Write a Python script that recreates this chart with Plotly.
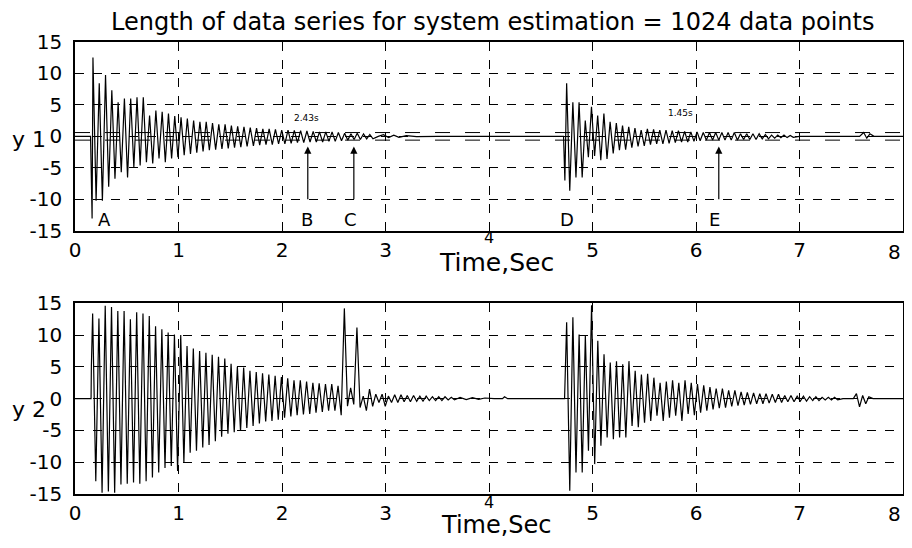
import plotly.graph_objects as go

# ---- values ----
# each burst: onset time, oscillation period (s), then the height of every
# positive peak and every negative trough, one per cycle
y1_b1_start, y1_b1_period = 0.158, 0.0608
y1_b1_peaks = [12.5, 8.4, 9.7, 7.3, 5.4, 6.0, 6.0, 6.2, 6.2, 3.3,
               4.1, 3.9, 3.6, 3.2, 3.0, 2.8, 2.5, 2.3, 2.3, 2.1,
               1.9, 1.9, 1.7, 1.6, 1.5, 1.4, 1.3, 1.2, 1.2, 1.1,
               1.0, 1.0, 0.95, 0.9, 0.85, 0.8, 0.7, 0.7, 0.7, 0.6,
               0.5, 0.4, 0.5, 0.4, 0.3]
y1_b1_troughs = [-10.2, -10.2, -8.0, -6.7, -5.7, -6.5, -4.9, -4.6, -4.1, -4.3,
                 -3.5, -4.1, -3.5, -3.3, -3.0, -2.8, -2.6, -2.4, -2.2, -2.1,
                 -2.0, -1.9, -1.8, -1.7, -1.6, -1.5, -1.4, -1.3, -1.3, -1.2,
                 -1.2, -1.1, -1.0, -1.0, -0.9, -0.9, -0.9, -0.8, -0.8, -0.7,
                 -0.6, -0.5, -0.5, -0.4, -0.4]
y1_b2_start, y1_b2_period = 4.735, 0.060
y1_b2_peaks = [8.4, 5.4, 5.4, 2.5, 4.7, 3.3, 3.6, 2.3, 2.1, 1.7,
               1.5, 1.3, 1.0, 1.2, 1.1, 1.0, 1.0, 0.9, 0.9, 0.8,
               0.7, 0.7, 0.6, 0.6, 0.6, 0.6, 0.6, 0.6, 0.4, 0.4,
               0.4, 0.4, 0.3, 0.2, 0.2, 0.2, 0.15]
y1_b2_troughs = [-8.6, -6.5, -6.5, -3.3, -3.1, -3.8, -3.6, -2.7, -2.2, -2.1,
                 -1.8, -1.6, -1.5, -1.3, -1.2, -1.2, -1.1, -1.0, -0.9, -0.9,
                 -0.8, -0.7, -0.6, -0.6, -0.6, -0.6, -0.6, -0.6, -0.5, -0.5,
                 -0.5, -0.4, -0.4, -0.3, -0.2, -0.2, -0.15]
# quiet stretches / onsets / blips of y1
y1_lead_t, y1_lead_v = [0.0, 0.15, 0.165], [0.0, 0.0, -13.0]
y1_gap_t = [2.93, 2.98, 3.03, 3.08, 3.13, 3.2, 3.3, 3.5, 4.0, 4.4, 4.45, 4.5, 4.72]
y1_gap_v = [0.0, 0.25, -0.2, 0.2, -0.15, 0.1, -0.05, 0.0, 0.0, 0.0, 0.1, 0.0, 0.0]
y1_on2_t, y1_on2_v = [4.733], [-7.0]
y1_tail_t = [7.0, 7.58, 7.62, 7.65, 7.68, 7.72, 8.0]
y1_tail_v = [0.0, 0.0, 0.6, -0.3, 0.4, 0.0, 0.0]
y1_band = [0.6, -0.6]

y2_b1_start, y2_b1_period = 0.155, 0.0608
y2_b1_peaks = [13.4, 12.6, 14.6, 14.4, 13.8, 13.8, 12.5, 13.6, 13.4, 13.0,
               11.4, 10.9, 10.4, 10.1, 10.0, 8.3, 7.9, 7.5, 7.2, 6.9,
               6.6, 6.3, 5.5, 5.0, 4.9, 4.4, 4.2, 4.0, 3.8, 3.6,
               3.4, 3.2, 2.9, 2.9, 2.7, 2.5, 2.4, 2.3, 2.3, 2.0,
               14.2, 1.7, 11.2, 0.4, 1.5, 0.7, 0.7, 0.4, 0.6, 0.6,
               0.5, 0.5, 0.4, 0.4, 0.3, 0.3, 0.3, 0.2]
y2_b1_troughs = [-13.0, -14.8, -14.6, -14.8, -13.5, -13.4, -13.2, -13.4, -13.0, -12.4,
                 -11.6, -10.9, -10.6, -11.4, -10.1, -8.5, -8.2, -7.7, -7.3, -6.7,
                 -6.0, -5.5, -5.3, -5.1, -4.6, -4.3, -3.9, -3.6, -3.5, -3.3,
                 -3.0, -2.8, -2.6, -2.5, -2.4, -2.2, -2.1, -1.9, -1.9, -2.6,
                 -1.2, -0.9, -1.4, -1.9, -1.2, -0.6, -1.2, -0.6, -0.6, -0.5,
                 -0.5, -0.4, -0.4, -0.3, -0.3, -0.3, -0.2, -0.2]
y2_b2_start, y2_b2_period = 4.735, 0.0602
y2_b2_peaks = [12.0, 12.8, 10.1, 9.9, 14.7, 9.1, 7.0, 5.7, 5.9, 5.4,
               5.9, 4.4, 3.8, 3.9, 3.3, 2.5, 2.7, 2.9, 2.5, 2.9,
               2.5, 2.3, 2.1, 1.8, 1.6, 1.6, 1.3, 1.3, 1.05, 1.0,
               0.9, 0.8, 0.8, 0.7, 0.7, 0.5, 0.5, 0.4, 0.4, 0.3,
               0.3, 0.2, 0.2, 0.2]
y2_b2_troughs = [-14.5, -11.6, -11.6, -8.2, -10.3, -7.4, -6.1, -6.4, -6.1, -6.1,
                 -4.3, -4.5, -3.8, -3.5, -2.7, -3.5, -3.0, -2.7, -3.5, -2.4,
                 -2.6, -2.2, -1.9, -1.7, -1.5, -1.4, -1.2, -1.1, -1.0, -0.9,
                 -0.8, -0.8, -0.7, -0.6, -0.6, -0.5, -0.5, -0.4, -0.4, -0.3,
                 -0.3, -0.2, -0.2, -0.2]
y2_lead_t, y2_lead_v = [0.0, 0.155, 0.158], [0.0, 0.0, 5.0]
y2_gap_t = [3.72, 3.78, 3.84, 3.9, 3.96, 4.05, 4.13, 4.15, 4.18, 4.4, 4.73]
y2_gap_v = [0.2, -0.15, 0.15, -0.1, 0.1, 0.0, 0.0, 0.3, 0.0, 0.0, 0.0]
y2_tail_t = [7.42, 7.52, 7.55, 7.58, 7.61, 7.64, 7.67, 7.71, 8.0]
y2_tail_v = [0.0, 0.0, 0.8, -1.3, 0.5, -0.8, 0.3, 0.0, 0.0]

# event markers (letter, time) and arrows (time)
event_labels = ["A", "B", "C", "D", "E"]
event_times = [0.28, 2.24, 2.66, 4.75, 6.18]
arrow_times = [2.249, 2.694, 6.22]
settle_labels = ["2.43s", "1.45s"]
settle_times = [2.24, 5.85]
settle_levels = [2.9, 3.7]

x_ticks = [0, 1, 2, 3, 4, 5, 6, 7, 8]
# "4" is printed raised (it sits under the axis title), "8" is tucked
# inside the right edge; both are drawn separately below
x_tick_text = ["0", "1", "2", "3", "", "5", "6", "7", ""]
y_ticks = [-15, -10, -5, 0, 5, 10, 15]
y_tick_text = ["-15", "-10", "-5", "0", "5", "10", "15"]


def zigzag(start, period, peaks, troughs):
    t, v = [], []
    for i, (p, q) in enumerate(zip(peaks, troughs)):
        t += [start + (i + 0.25) * period, start + (i + 0.75) * period]
        v += [p, q]
    return t, v


def join(*pieces):
    t, v = [], []
    for a, b in pieces:
        t += list(a)
        v += list(b)
    return t, v


y1_t, y1_v = join((y1_lead_t, y1_lead_v),
                  zigzag(y1_b1_start, y1_b1_period, y1_b1_peaks, y1_b1_troughs),
                  (y1_gap_t, y1_gap_v), (y1_on2_t, y1_on2_v),
                  zigzag(y1_b2_start, y1_b2_period, y1_b2_peaks, y1_b2_troughs),
                  (y1_tail_t, y1_tail_v))
y2_t, y2_v = join((y2_lead_t, y2_lead_v),
                  zigzag(y2_b1_start, y2_b1_period, y2_b1_peaks, y2_b1_troughs),
                  (y2_gap_t, y2_gap_v),
                  zigzag(y2_b2_start, y2_b2_period, y2_b2_peaks, y2_b2_troughs),
                  (y2_tail_t, y2_tail_v))

FONT = "DejaVu Sans, Verdana, sans-serif"
sig_line = dict(color="black", width=1.2)

fig = go.Figure()
# threshold band on y1
for lvl in y1_band:
    fig.add_trace(go.Scatter(x=[0, 8], y=[lvl, lvl], mode="lines",
                             line=dict(color="black", width=1, dash="longdash"),
                             xaxis="x", yaxis="y", hoverinfo="skip"))
fig.add_trace(go.Scatter(x=y1_t, y=y1_v, mode="lines", line=sig_line,
                         xaxis="x", yaxis="y"))
fig.add_trace(go.Scatter(x=y2_t, y=y2_v, mode="lines", line=sig_line,
                         xaxis="x2", yaxis="y2"))

tick_font = dict(family=FONT, size=20, color="black")
axis_common = dict(showline=True, mirror=True, linecolor="black", linewidth=1.5,
                   showgrid=True, gridcolor="black", gridwidth=1, griddash="dash",
                   zeroline=False, ticks="", automargin=False,
                   ticklabeloverflow="allow", tickfont=tick_font)
x_common = dict(range=[0, 8], tickvals=x_ticks, ticktext=x_tick_text,
                ticklabelstandoff=0, domain=[0.0748, 0.9989], **axis_common)
y_common = dict(range=[-15, 15], tickvals=y_ticks, ticktext=y_tick_text,
                ticklabelstandoff=7, **axis_common)

# the page body adds an 8px margin on every side; keep the figure small
# enough that the page never needs scrollbars
fig.update_layout(
    template="none",
    width=896, height=532,
    margin=dict(l=0, r=0, t=0, b=0, pad=0),
    paper_bgcolor="white", plot_bgcolor="white",
    showlegend=False,
    xaxis=dict(anchor="y", **x_common),
    yaxis=dict(domain=[0.5808, 0.9367], anchor="x", **y_common),
    xaxis2=dict(anchor="y2", **x_common),
    yaxis2=dict(domain=[0.0865, 0.4449], anchor="x2", **y_common),
)

fig.add_annotation(text="Length of data series for system estimation = 1024 data points",
                   xref="paper", yref="paper", x=0.541, y=0.9737, showarrow=False,
                   xanchor="center", yanchor="middle",
                   font=dict(family=FONT, size=24, color="black"))
for yy, sz in ((0.5207, 25), (0.0282, 24)):
    fig.add_annotation(text="Time,Sec", xref="paper", yref="paper", x=0.545, y=yy,
                       xanchor="center", yanchor="middle", showarrow=False,
                       font=dict(family=FONT, size=sz, color="black"))
for xa, y4, y8 in (("x", 0.5677, 0.5414), ("x2", 0.0714, 0.0489)):
    fig.add_annotation(text="4", xref=xa, yref="paper", x=4, y=y4, showarrow=False,
                       xanchor="center", yanchor="middle",
                       font=dict(family=FONT, size=16, color="black"))
    fig.add_annotation(text="8", xref=xa, yref="paper", x=8, y=y8, showarrow=False,
                       xanchor="right", yanchor="middle", font=tick_font)
for lab, yy in (("y 1", 0.7519), ("y 2", 0.2444)):
    fig.add_annotation(text=lab, xref="paper", yref="paper", x=0.0234, y=yy,
                       xanchor="center", yanchor="middle", showarrow=False,
                       font=dict(family=FONT, size=22, color="black"))

for lab, t in zip(event_labels, event_times):
    fig.add_annotation(text=lab, x=t, y=-13.1, xref="x", yref="y", showarrow=False,
                       font=dict(family=FONT, size=18, color="black"))
for t in arrow_times:
    fig.add_annotation(text="", x=t, y=-1.6, ax=t, ay=-10.2, xref="x", yref="y",
                       axref="x", ayref="y", showarrow=True, arrowhead=2,
                       arrowsize=1.2, arrowwidth=1.2, arrowcolor="black")
for lab, t, lv in zip(settle_labels, settle_times, settle_levels):
    fig.add_annotation(text=lab, x=t, y=lv, xref="x", yref="y", showarrow=False,
                       font=dict(family=FONT, size=9, color="black"))

fig.write_html("out.html")
